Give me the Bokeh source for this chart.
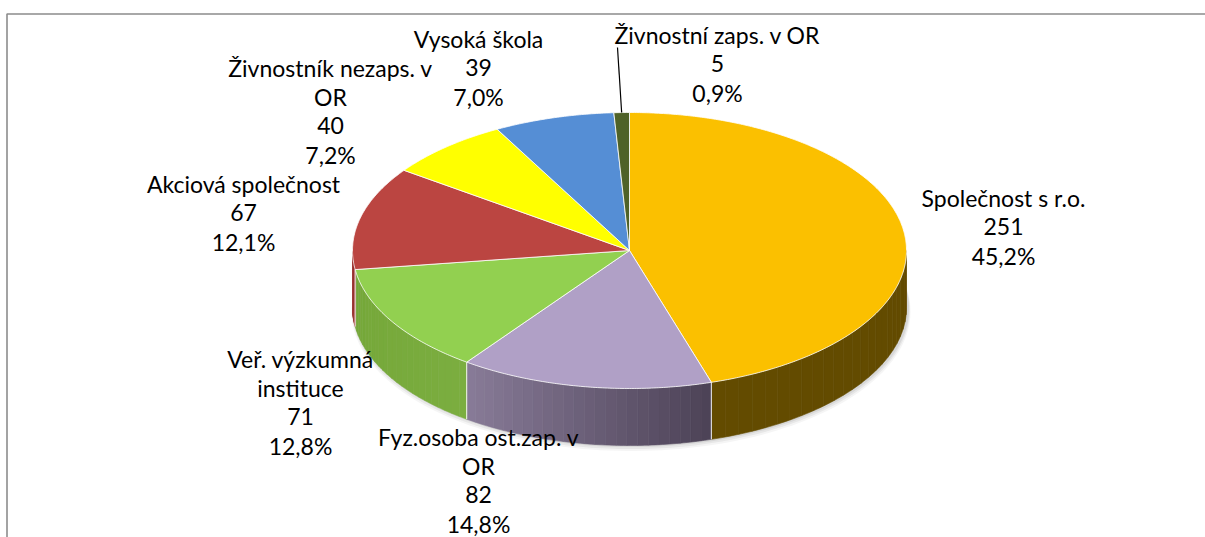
import math
import textwrap
import numpy as np
from bokeh.plotting import figure
from bokeh.models import Range1d, ColumnDataSource
from bokeh.core.properties import value
from bokeh.embed import file_html
from bokeh.resources import INLINE

# ---------------- data ----------------
categories = ["Společnost s r.o.", "Fyz.osoba ost.zap. v OR", "Veř. výzkumná instituce",
              "Akciová společnost", "Živnostník nezaps. v OR", "Vysoká škola",
              "Živnostní zaps. v OR"]
values = [251, 82, 71, 67, 40, 39, 5]

# ---------------- style ----------------
top_colors = ["#FBC000", "#B0A0C6", "#92D050", "#BB4541", "#FFFF00", "#558ED5", "#4F6228"]
side_left = ["#634B00", "#887B98", "#76A83A", "#A03B37", "#CCCC00", "#3F6FAA", "#3C4B1E"]
side_right = ["#634B00", "#4C4256", "#7BAE40", "#A03B37", "#CCCC00", "#3F6FAA", "#3C4B1E"]

# label anchor (center x, first line y) in picture pixels
label_pos = [(1003, 197), (478, 436), (300, 358), (243, 183), (330, 67), (478, 38), (717, 34)]
LINE_H = 29.0
FONT = "Lato"
FONT_SIZE = "23px"

W, H = 1205, 537
CX, CY, RX, RY, DEPTH = 629, 250, 277, 138, 57

p = figure(width=W, height=H, x_range=Range1d(0, W), y_range=Range1d(H, 0),
           output_backend="svg", toolbar_location=None, x_axis_type=None, y_axis_type=None,
           min_border=0, outline_line_color=None)
p.xgrid.visible = False
p.ygrid.visible = False

# frame (left and top edges visible)
p.line([6.5, 6.5, W], [H, 13.5, 13.5], line_color="#8c8c8c", line_width=1.6)


def pt(theta, dy=0.0):
    t = math.radians(theta)
    return CX + RX * math.sin(t), CY - RY * math.cos(t) + dy


total = float(sum(values))
angles = [v / total * 360.0 for v in values]
starts = np.concatenate([[0.0], np.cumsum(angles)[:-1]])
ends = starts + np.array(angles)

# soft shadow under the pie
for off, alpha in [(5, 0.08), (3.5, 0.12), (2, 0.16)]:
    th = np.linspace(0, 360, 200)
    xs = [CX + 1.5 + (RX + off * 0.5) * math.sin(math.radians(t)) for t in th]
    ys = [CY + DEPTH + off - 1 + (RY + off * 0.3) * -math.cos(math.radians(t)) for t in th]
    p.patch(xs, ys, fill_color="#808080", fill_alpha=alpha, line_color=None)


def hex2rgb(h):
    h = h.lstrip("#")
    return [int(h[i:i + 2], 16) for i in (0, 2, 4)]


def mix(c1, c2, f):
    a, b = hex2rgb(c1), hex2rgb(c2)
    return "#%02x%02x%02x" % tuple(int(round(a[i] + (b[i] - a[i]) * f)) for i in range(3))


# side faces (front half: 90..270 degrees)
sx, sy, sc = [], [], []
edge_x, edge_y = [], []
for i in range(len(values)):
    a, b = max(starts[i], 90.0), min(ends[i], 270.0)
    if a >= b:
        continue
    xr, _ = pt(a)
    xl, _ = pt(b)
    n = 24
    th = np.linspace(a, b, n + 1)
    for j in range(n):
        t0, t1 = th[j], th[j + 1]
        seg = np.linspace(t0, t1, 4)
        top = [pt(t) for t in seg]
        bot = [pt(t, DEPTH) for t in seg[::-1]]
        xs = [q[0] for q in top + bot]
        ys = [q[1] for q in top + bot]
        xm = (pt(t0)[0] + pt(t1)[0]) / 2
        f = (xr - xm) / (xr - xl) if xr != xl else 0
        sx.append(xs)
        sy.append(ys)
        sc.append(mix(side_right[i], side_left[i], f))
    for t in (starts[i], ends[i]):
        if 90.0 < t < 270.0:
            x0, y0 = pt(t)
            edge_x.append([x0, x0])
            edge_y.append([y0, y0 + DEPTH])

p.patches(sx, sy, fill_color=sc, line_color=sc, line_width=0.6)
p.multi_line(edge_x, edge_y, line_color="white", line_alpha=0.6, line_width=1)

# top faces
tx, ty = [], []
for i in range(len(values)):
    th = np.linspace(starts[i], ends[i], max(4, int(angles[i] * 2)))
    pts = [(CX, CY)] + [pt(t) for t in th]
    tx.append([q[0] for q in pts])
    ty.append([q[1] for q in pts])
p.patches(tx, ty, fill_color=top_colors, line_color="white", line_alpha=0.8, line_width=1)

# labels
lx, ly, lt = [], [], []
for i, cat in enumerate(categories):
    pct = ("%.1f%%" % (values[i] / total * 100)).replace(".", ",")
    lines = textwrap.wrap(cat, 20) + [str(values[i]), pct]
    x0, y0 = label_pos[i]
    for k, s in enumerate(lines):
        lx.append(x0)
        ly.append(y0 + k * LINE_H)
        lt.append(s)
src = ColumnDataSource(dict(x=lx, y=ly, text=lt))
p.text("x", "y", text="text", source=src, text_font=value(FONT), text_font_size=FONT_SIZE,
       text_align="center", text_baseline="middle", text_color="#000000")

# leader line for the small slice
small = len(values) - 1
mid = (starts[small] + ends[small]) / 2
ex, ey = pt(mid)
p.line([617, ex], [47, ey], line_color="#000000", line_width=1.2)

open("out.html", "w").write(file_html(p, INLINE))
